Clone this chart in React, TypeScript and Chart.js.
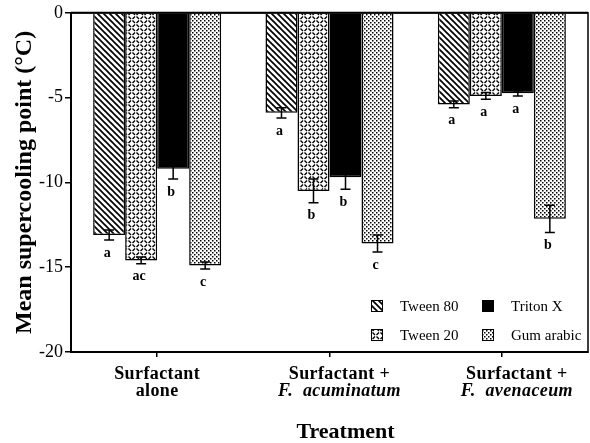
import React, { useEffect, useRef } from "react";
import { Chart, registerables } from "chart.js";

Chart.register(...registerables);

const categories = [
  ["Surfactant", "alone"],
  ["Surfactant +", "F. acuminatum"],
  ["Surfactant +", "F. avenaceum"],
];
const seriesNames = ["Tween 80", "Tween 20", "Triton X", "Gum arabic"];
const tween80 = [-13.1, -5.9, -5.4];
const tween20 = [-14.6, -10.5, -4.9];
const tritonX = [-9.2, -9.7, -4.75];
const gumArabic = [-14.9, -13.6, -12.15];
const tween80Err = [0.3, 0.3, 0.2];
const tween20Err = [0.2, 0.7, 0.2];
const tritonXErr = [0.6, 0.7, 0.15];
const gumArabicErr = [0.2, 0.5, 0.8];
const tween80Letters = ["a", "a", "a"];
const tween20Letters = ["ac", "b", "a"];
const tritonXLetters = ["b", "b", "a"];
const gumArabicLetters = ["c", "c", "b"];
const yTicks = [0, -5, -10, -15, -20];

const SERIF = "'Liberation Serif', 'Times New Roman', serif";

function makeTile(w: number, h: number, draw: (c: CanvasRenderingContext2D) => void) {
  const t = document.createElement("canvas");
  t.width = w;
  t.height = h;
  const c = t.getContext("2d")!;
  c.fillStyle = "#fff";
  c.fillRect(0, 0, w, h);
  c.strokeStyle = "#000";
  c.fillStyle = "#000";
  draw(c);
  return t;
}

function makePatterns(ctx: CanvasRenderingContext2D) {
  const diag = makeTile(6, 6, (c) => {
    c.lineWidth = 1.7;
    for (let k = -1; k <= 1; k++) {
      c.beginPath();
      c.moveTo(k * 6 - 1, -1);
      c.lineTo(k * 6 + 7, 7);
      c.stroke();
    }
  });
  const dash = makeTile(8, 8, (c) => {
    c.lineWidth = 1.4;
    c.beginPath();
    c.moveTo(0.5, 0.5);
    c.lineTo(3, 3);
    c.moveTo(4.5, 3);
    c.lineTo(7, 0.5);
    c.moveTo(0.5, 7);
    c.lineTo(3, 4.5);
    c.moveTo(4.5, 4.5);
    c.lineTo(7, 7);
    c.stroke();
  });
  const dots = makeTile(4, 4, (c) => {
    c.fillRect(0, 0, 1.5, 1.5);
    c.fillRect(2, 2, 1.5, 1.5);
  });
  return [
    ctx.createPattern(diag, "repeat")!,
    ctx.createPattern(dash, "repeat")!,
    "#000",
    ctx.createPattern(dots, "repeat")!,
  ];
}

export default function App() {
  const ref = useRef<HTMLCanvasElement | null>(null);

  useEffect(() => {
    document.body.style.margin = "0";
    const canvas = ref.current!;
    const ctx = canvas.getContext("2d")!;
    const fills = makePatterns(ctx);
    const values = [tween80, tween20, tritonX, gumArabic];
    const errs = [tween80Err, tween20Err, tritonXErr, gumArabicErr];
    const letters = [tween80Letters, tween20Letters, tritonXLetters, gumArabicLetters];
    const labelShift = [0, 10, 15];

    const overlay = {
      id: "overlay",
      afterDatasetsDraw(chart: any) {
        const c = chart.ctx as CanvasRenderingContext2D;
        const ys = chart.scales.y;
        const xs = chart.scales.x;
        const area = chart.chartArea;
        c.save();
        // error bars and letters
        c.strokeStyle = "#000";
        c.fillStyle = "#000";
        c.lineWidth = 1.5;
        values.forEach((vals, i) => {
          const meta = chart.getDatasetMeta(i);
          meta.data.forEach((bar: any, j: number) => {
            const v = vals[j];
            const e = errs[i][j];
            const x = bar.x;
            const yt = ys.getPixelForValue(v + e);
            const yb = ys.getPixelForValue(v - e);
            c.beginPath();
            c.moveTo(x, yt);
            c.lineTo(x, yb);
            c.moveTo(x - 5, yt);
            c.lineTo(x + 5, yt);
            c.moveTo(x - 5, yb);
            c.lineTo(x + 5, yb);
            c.stroke();
            c.font = `bold 14px ${SERIF}`;
            c.textAlign = "center";
            c.textBaseline = "middle";
            c.fillText(letters[i][j], x - 2, yb + 13);
          });
        });
        // frame
        c.lineWidth = 1.5;
        c.strokeRect(area.left, area.top, area.right - area.left, area.bottom - area.top);
        c.lineWidth = 2;
        c.beginPath();
        c.moveTo(area.left, area.top);
        c.lineTo(area.right, area.top);
        c.stroke();

        // legend
        const items = [
          { i: 0, bx: area.right - 217, by: area.bottom - 52 },
          { i: 2, bx: area.right - 106, by: area.bottom - 52 },
          { i: 1, bx: area.right - 217, by: area.bottom - 23 },
          { i: 3, bx: area.right - 106, by: area.bottom - 23 },
        ];
        c.font = `15px ${SERIF}`;
        c.textAlign = "left";
        c.textBaseline = "alphabetic";
        items.forEach((it) => {
          c.fillStyle = fills[it.i] as any;
          c.fillRect(it.bx, it.by, 12, 12);
          c.lineWidth = 1;
          c.strokeStyle = "#000";
          c.strokeRect(it.bx + 0.5, it.by + 0.5, 11, 11);
          c.fillStyle = "#000";
          c.fillText(seriesNames[it.i], it.bx + 29, it.by + 11);
        });

        // category labels
        c.textAlign = "center";
        c.fillStyle = "#000";
        (c as any).letterSpacing = "0.4px";
        categories.forEach((lab, k) => {
          const x = xs.getPixelForValue(k) + labelShift[k];
          c.font = `bold 18px ${SERIF}`;
          c.fillText(lab[0], x, area.bottom + 27);
          if (lab[1].startsWith("F. ")) {
            const a = "F. ";
            const b = lab[1].slice(3);
            c.font = `italic bold 18px ${SERIF}`;
            const wa = c.measureText(a + " ").width;
            const wb = c.measureText(b).width;
            const start = x - (wa + wb) / 2;
            c.textAlign = "left";
            c.fillText(a, start, area.bottom + 44);
            c.fillText(b, start + wa, area.bottom + 44);
            c.textAlign = "center";
          } else {
            c.font = `bold 18px ${SERIF}`;
            c.fillText(lab[1], x, area.bottom + 44);
          }
        });
        (c as any).letterSpacing = "0px";

        // axis titles
        c.font = `bold 22px ${SERIF}`;
        c.textAlign = "center";
        c.fillText("Treatment", (area.left + area.right) / 2 + 16, area.bottom + 86);
        c.save();
        c.translate(25, (area.top + area.bottom) / 2);
        c.rotate(-Math.PI / 2);
        c.font = `bold 24px ${SERIF}`;
        c.textBaseline = "middle";
        c.fillText("Mean supercooling point (°C)", 0, 0);
        c.restore();
        c.restore();
      },
    };

    const chart = new Chart(canvas, {
      type: "bar",
      data: {
        labels: categories.map((c) => c.join(" ")),
        datasets: values.map((vals, i) => ({
          label: seriesNames[i],
          data: vals,
          backgroundColor: fills[i] as any,
          borderColor: "#000",
          borderWidth: 1.5,
          barPercentage: 1,
          categoryPercentage: 0.743,
        })),
      },
      options: {
        responsive: false,
        animation: false,
        layout: { padding: { top: 12, right: 2, left: 0, bottom: 0 } },
        plugins: { legend: { display: false }, tooltip: { enabled: false } },
        scales: {
          x: {
            ticks: { display: false },
            grid: { drawOnChartArea: false, offset: false, tickLength: 5, color: "#000", lineWidth: 1.5 },
            border: { display: true, color: "#000", width: 2 },
            afterFit: (s: any) => {
              s.height = 91;
            },
          },
          y: {
            min: -20,
            max: 0,
            afterBuildTicks: (s: any) => {
              s.ticks = yTicks.map((v) => ({ value: v }));
            },
            ticks: {
              font: { family: SERIF, size: 18 },
              color: "#000",
              padding: 2,
            },
            grid: { drawOnChartArea: false, tickLength: 6, color: "#000", lineWidth: 1.5 },
            border: { display: true, color: "#000", width: 2 },
            afterFit: (s: any) => {
              s.width = 71;
            },
          },
        },
      },
      plugins: [overlay],
    });
    return () => chart.destroy();
  }, []);

  return (
    <div style={{ width: 590, height: 443 }}>
      <canvas ref={ref} width={590} height={443} style={{ display: "block" }} />
    </div>
  );
}
